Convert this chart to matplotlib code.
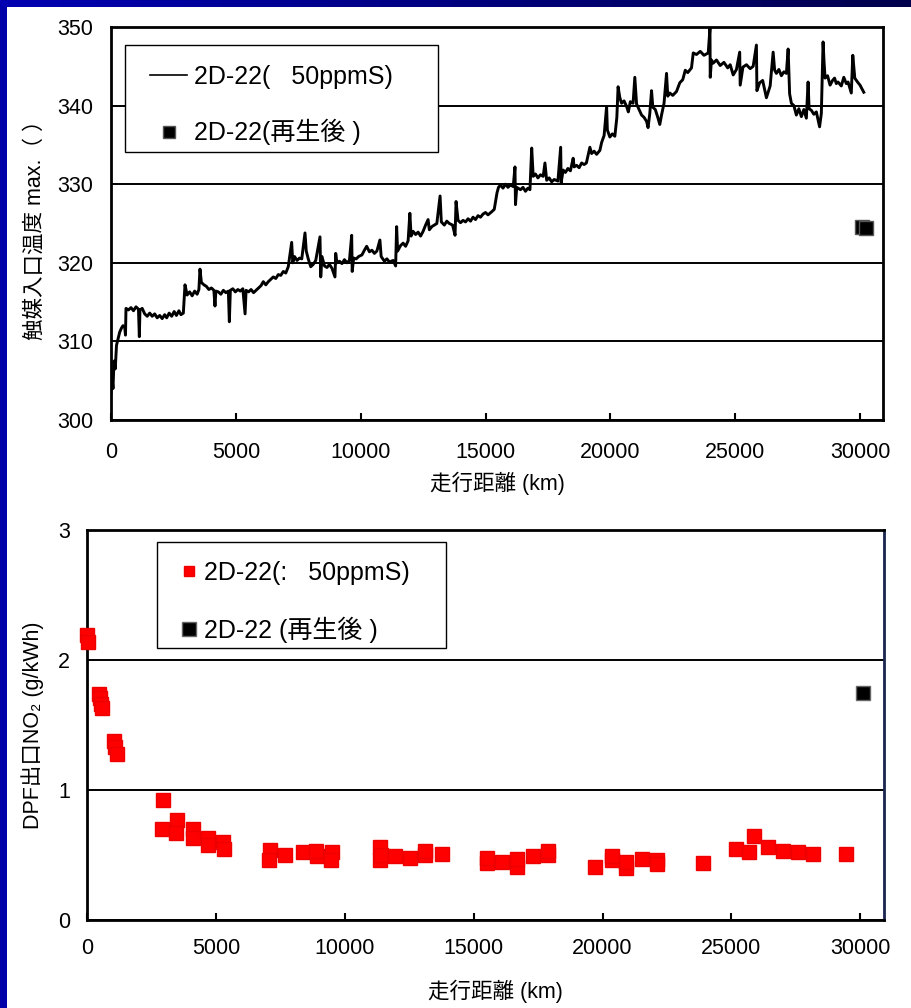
import numpy as np
import matplotlib
matplotlib.use("Agg")
import matplotlib.pyplot as plt
from matplotlib.patches import Rectangle

plt.rcParams['font.family'] = ['Liberation Sans', 'Noto Sans CJK JP', 'DejaVu Sans']

# Catalyst inlet temperature trace (km, deg C)
temp_km = [0, 40, 80, 120, 170, 220, 290, 350, 420, 480, 550, 580, 600, 700, 800, 900,
           1000, 1100, 1135, 1160, 1250, 1350, 1450, 1550, 1650, 1750, 1850, 1950, 2050,
           2150, 2230, 2330, 2430, 2530, 2620, 2720, 2800, 2897, 2964, 3050, 3150, 3250,
           3350, 3450, 3520, 3564, 3620, 3720, 3820, 3920, 4020, 4120, 4165, 4200, 4300,
           4400, 4500, 4600, 4700, 4740, 4780, 4880, 4980, 5080, 5180, 5280, 5370, 5410,
           5510, 5610, 5710, 5810, 5910, 6010, 6100, 6200, 6300, 6400, 6500, 6600, 6700,
           6800, 6900, 7000, 7100, 7236, 7280, 7350, 7450, 7550, 7640, 7770, 7820, 7900,
           8000, 8100, 8200, 8370, 8400, 8450, 8550, 8650, 8750, 8850, 8970, 9000, 9050,
           9150, 9250, 9350, 9450, 9550, 9640, 9660, 9720, 9820, 9920, 10050, 10150,
           10240, 10350, 10450, 10550, 10650, 10770, 10820, 10950, 11050, 11150, 11300,
           11400, 11440, 11480, 11600, 11700, 11800, 11900, 11970, 12020, 12100, 12200,
           12300, 12400, 12500, 12600, 12700, 12750, 12850, 12950, 13050, 13180, 13230,
           13350, 13450, 13550, 13680, 13780, 13820, 13900, 14000, 14100, 14200, 14300,
           14400, 14500, 14600, 14700, 14800, 14900, 15000, 15100, 15250, 15350, 15460,
           15520, 15600, 15700, 15800, 15900, 16000, 16110, 16180, 16200, 16250, 16400,
           16500, 16600, 16700, 16780, 16850, 16910, 17000, 17100, 17200, 17310, 17380,
           17450, 17550, 17650, 17750, 17900, 18010, 18030, 18110, 18200, 18300, 18400,
           18510, 18550, 18650, 18750, 18850, 18950, 19040, 19180, 19250, 19350, 19450,
           19580, 19650, 19750, 19850, 19880, 19980, 20080, 20180, 20260, 20310, 20380,
           20450, 20550, 20650, 20720, 20800, 20910, 20980, 21050, 21150, 21250, 21350,
           21450, 21510, 21580, 21650, 21700, 21800, 21900, 21980, 22050, 22150, 22250,
           22300, 22380, 22500, 22650, 22780, 22900, 23000, 23100, 23250, 23320, 23450,
           23600, 23750, 23920, 23990, 24000, 24050, 24120, 24250, 24400, 24550, 24700,
           24800, 24920, 25050, 25180, 25200, 25310, 25450, 25600, 25720, 25850, 25870,
           25980, 26100, 26250, 26400, 26520, 26580, 26650, 26750, 26850, 26950, 27050,
           27120, 27180, 27250, 27350, 27450, 27550, 27650, 27750, 27850, 27920, 27960,
           28050, 28150, 28250, 28380, 28450, 28520, 28560, 28600, 28700, 28800, 28900,
           28980, 29050, 29120, 29250, 29350, 29450, 29520, 29650, 29710, 29790, 29900,
           30000, 30150]
temp_c = [303.5, 305.5, 304.0, 307.5, 306.5, 309.5, 310.4, 311.2, 311.7, 312.0, 311.8, 310.8,
          314.2, 314.0, 314.3, 313.9, 314.4, 314.1, 310.6, 314.0, 314.2, 313.5, 313.2, 313.6,
          313.2, 313.5, 313.0, 313.3, 312.9, 313.4, 313.0, 313.6, 313.2, 313.8, 313.3, 313.9,
          313.4, 313.6, 317.2, 315.9, 316.3, 315.8, 316.4, 316.0, 316.6, 319.2, 317.5, 317.2,
          317.0, 316.6, 316.8, 316.5, 314.5, 316.4, 316.3, 316.0, 316.5, 316.2, 316.4, 312.5,
          316.5, 316.7, 316.3, 316.6, 316.4, 316.7, 313.5, 316.5, 316.3, 316.6, 316.2, 316.5,
          316.8, 317.1, 317.6, 317.2, 317.6, 317.9, 318.2, 318.0, 318.5, 318.4, 318.9, 318.7,
          319.5, 322.6, 320.0, 320.8, 320.3, 320.6, 320.5, 323.8, 321.5, 320.5, 319.5, 319.8,
          320.3, 323.3, 318.2, 320.8, 319.6, 319.4, 319.8, 319.3, 318.2, 321.2, 320.0, 320.2,
          319.9, 320.4, 320.0, 320.3, 323.5, 318.9, 320.6, 320.5, 320.8, 321.0, 321.6, 322.1,
          321.4, 321.6, 321.2, 321.5, 322.9, 320.8, 320.2, 320.5, 320.1, 320.3, 319.6, 324.6,
          321.5, 322.2, 322.5, 322.1, 322.8, 326.3, 323.4, 324.0, 323.6, 323.9, 323.4, 324.0,
          324.8, 325.5, 324.2, 324.6, 324.8, 325.0, 328.5, 325.2, 324.8, 325.3, 325.0, 324.8,
          323.5, 327.8, 325.4, 325.1, 325.4, 325.2, 325.6, 325.3, 325.8, 325.5, 326.0, 325.8,
          326.2, 326.4, 326.1, 326.5, 326.8, 328.9, 329.6, 329.9, 329.5, 330.0, 329.6, 329.9,
          329.7, 332.2, 327.4, 329.6, 329.3, 329.6, 329.1, 329.5, 329.3, 334.6, 331.0, 331.3,
          330.8, 331.2, 331.0, 332.7, 330.5, 330.8, 330.3, 330.6, 330.4, 334.7, 330.2, 331.8,
          331.5, 332.0, 331.7, 333.3, 332.2, 332.4, 332.1, 332.7, 332.5, 332.7, 334.7, 333.9,
          334.2, 333.8, 334.3, 335.3, 336.2, 339.9, 336.9, 336.0, 336.4, 336.1, 338.5, 342.4,
          341.0, 340.3, 340.6, 339.9, 339.2, 340.5, 340.3, 343.6, 340.2, 339.5, 338.8, 338.5,
          338.0, 337.2, 339.0, 341.9, 339.8, 339.5, 338.5, 337.6, 338.8, 340.3, 344.1, 341.2,
          341.6, 341.3, 341.8, 342.9, 343.3, 344.5, 344.2, 344.8, 346.7, 346.5, 346.9, 346.4,
          346.7, 349.9, 343.6, 345.8, 345.4, 345.8, 345.1, 345.5, 344.8, 345.2, 343.9, 344.6,
          346.8, 342.6, 344.9, 345.2, 344.7, 345.0, 347.7, 341.9, 342.9, 343.2, 341.0, 342.5,
          346.8, 344.5, 344.1, 344.6, 343.8, 344.3, 344.1, 347.2, 341.5, 340.3, 340.0, 338.8,
          339.6, 338.6, 339.5, 338.4, 343.0, 339.6, 339.4, 338.9, 339.2, 337.3, 339.0, 348.1,
          345.5, 343.5, 343.8, 342.6, 343.2, 343.5, 342.8, 343.0, 342.5, 343.6, 342.8, 343.0,
          341.6, 346.4, 343.5, 343.0, 342.6, 341.7]

# Temperature after regeneration
regen_temp_km = [30060, 30220]
regen_temp_c = [324.6, 324.4]

# DPF outlet NO2 (g/kWh)
nox_km = [10, 30, 480, 520, 560, 600, 1050, 1100, 1150, 2950, 2900, 3490, 3450, 4110, 4100,
          4700, 4680, 5280, 5300, 7100, 7080, 7680, 8380, 8920, 8900, 9500, 9480, 11370,
          11350, 11400, 11950, 12530, 13120, 13130, 13780, 15520, 15500, 16100, 16690,
          16700, 17310, 17890, 17900, 19710, 20370, 20380, 20920, 20930, 21540, 22120,
          22130, 23900, 25190, 25690, 25880, 26430, 27010, 27590, 28170, 29450]
nox_val = [2.19, 2.14, 1.74, 1.71, 1.66, 1.63, 1.38, 1.33, 1.28, 0.92, 0.70, 0.77, 0.67, 0.70,
           0.63, 0.63, 0.58, 0.60, 0.55, 0.54, 0.46, 0.50, 0.52, 0.49, 0.53, 0.52, 0.46, 0.56,
           0.46, 0.50, 0.49, 0.48, 0.50, 0.53, 0.51, 0.44, 0.48, 0.45, 0.41, 0.47, 0.49, 0.50,
           0.53, 0.41, 0.46, 0.49, 0.40, 0.45, 0.47, 0.46, 0.43, 0.44, 0.545, 0.52, 0.65,
           0.56, 0.53, 0.52, 0.51, 0.51]

regen_nox_km = [30110]
regen_nox_val = [1.75]

x_ticks = [0, 5000, 10000, 15000, 20000, 25000, 30000]
temp_ticks = [300, 310, 320, 330, 340, 350]
nox_ticks = [0, 1, 2, 3]

label_fuel_top = "2D-22(   50ppmS)"
label_regen_top = "2D-22(再生後 )"
label_fuel_bottom = "2D-22(:   50ppmS)"
label_regen_bottom = "2D-22 (再生後 )"
xlabel = "走行距離 (km)"
ylabel_top = "触媒入口温度 max.（ ）"
ylabel_bottom = "DPF出口NO₂ (g/kWh)"

W, H = 912, 1008
fig = plt.figure(figsize=(W / 100, H / 100), dpi=100)
fig.patch.set_facecolor('white')

# blue slide frame along the left and top edges
fig.add_artist(Rectangle((0, 0), 7 / W, 1, transform=fig.transFigure,
                         facecolor='#0000A8', edgecolor='none', zorder=0))
band = fig.add_axes([0, 1 - 7 / H, 1, 7 / H])
grad = np.linspace(0, 1, 256)
band_rgb = np.zeros((1, 256, 3))
band_rgb[0, :, 2] = 0.70 - 0.40 * grad
band.imshow(band_rgb, aspect='auto', extent=(0, 1, 0, 1))
band.set_axis_off()

TICK_FS = 15.5
LEG_FS = 18


def style_axes(ax, xpad, ypad):
    for sp in ax.spines.values():
        sp.set_linewidth(2.0)
        sp.set_color('black')
    ax.set_xlim(0, 30920)
    ax.set_xticks(x_ticks)
    ax.tick_params(axis='x', direction='in', length=5, width=1.5, pad=xpad,
                   labelsize=TICK_FS, top=False)
    ax.tick_params(axis='y', direction='in', length=0, pad=ypad, labelsize=TICK_FS)
    ax.grid(axis='y', color='black', linewidth=1.4)
    ax.grid(axis='x', visible=False)
    ax.set_axisbelow(True)


def legend_box(ax, x0, y0, x1, y1, ax_px):
    """White framed box given in figure pixels."""
    left, bottom, w, h = ax_px
    rect = Rectangle(((x0 - left) / w, (bottom - y1) / h), (x1 - x0) / w, (y1 - y0) / h,
                     transform=ax.transAxes, facecolor='white', edgecolor='black',
                     linewidth=1.0, zorder=5, clip_on=False)
    ax.add_patch(rect)


# --- upper panel: catalyst inlet temperature ---
ax1_px = (111, 420, 772, 393)
ax1 = fig.add_axes([111 / W, 1 - 420 / H, 772 / W, 393 / H])
line, = ax1.plot(temp_km, temp_c, color='black', linewidth=2.1, zorder=3)
sq1, = ax1.plot(regen_temp_km, regen_temp_c, linestyle='none', marker='s',
                markersize=10, markerfacecolor='black', markeredgecolor='#555555',
                markeredgewidth=1, zorder=4, clip_on=False)
ax1.set_ylim(300, 350)
ax1.set_yticks(temp_ticks)
style_axes(ax1, xpad=16, ypad=13)

legend_box(ax1, 125, 45, 438, 152, ax1_px)
leg1 = ax1.legend([line, sq1], [label_fuel_top, label_regen_top],
                  loc='upper left', bbox_to_anchor=((150 - 111) / 772, (420 - 65) / 393),
                  numpoints=1, fontsize=LEG_FS, frameon=False,
                  borderpad=0, labelspacing=1.2, handlelength=1.5,
                  handletextpad=0.28, borderaxespad=0, markerscale=0.85)
leg1.get_lines()[0].set_linewidth(1.2)
leg1.set_zorder(6)

fig.text(497 / W, 1 - 483 / H, xlabel, ha='center', va='center', fontsize=15.5)
fig.text(35 / W, 1 - 225 / H, ylabel_top, ha='center', va='center',
         rotation=90, fontsize=15.5)

# --- lower panel: DPF outlet NO2 ---
ax2_px = (87, 920, 797, 390)
ax2 = fig.add_axes([87 / W, 1 - 920 / H, 797 / W, 390 / H])
red_sq, = ax2.plot(nox_km, nox_val, linestyle='none', marker='s', markersize=10.5,
                   markerfacecolor='#ff0000', markeredgecolor='#ee0000',
                   markeredgewidth=1, zorder=3, clip_on=False)
blk_sq, = ax2.plot(regen_nox_km, regen_nox_val, linestyle='none', marker='s',
                   markersize=10.5, markerfacecolor='black', markeredgecolor='#666666',
                   markeredgewidth=1, zorder=3, clip_on=False)
ax2.set_ylim(0, 3)
ax2.set_yticks(nox_ticks)
style_axes(ax2, xpad=13, ypad=12)
ax2.spines['right'].set_color('#1a2550')

legend_box(ax2, 157, 542, 446, 648, ax2_px)
leg2 = ax2.legend([red_sq, blk_sq], [label_fuel_bottom, label_regen_bottom],
                  loc='upper left', bbox_to_anchor=((176 - 87) / 797, (920 - 561) / 390),
                  numpoints=1, fontsize=LEG_FS, frameon=False,
                  borderpad=0, labelspacing=1.25, handlelength=1.0,
                  handletextpad=0.1, borderaxespad=0, markerscale=0.75)
leg2.legend_handles[1].set_markersize(10.5)
leg2.set_zorder(6)

fig.text(495 / W, 1 - 991 / H, xlabel, ha='center', va='center', fontsize=15.5)
fig.text(33 / W, 1 - 725 / H, ylabel_bottom, ha='center', va='center',
         rotation=90, fontsize=15.5)

fig.savefig('out.png', dpi=100, facecolor='white')
